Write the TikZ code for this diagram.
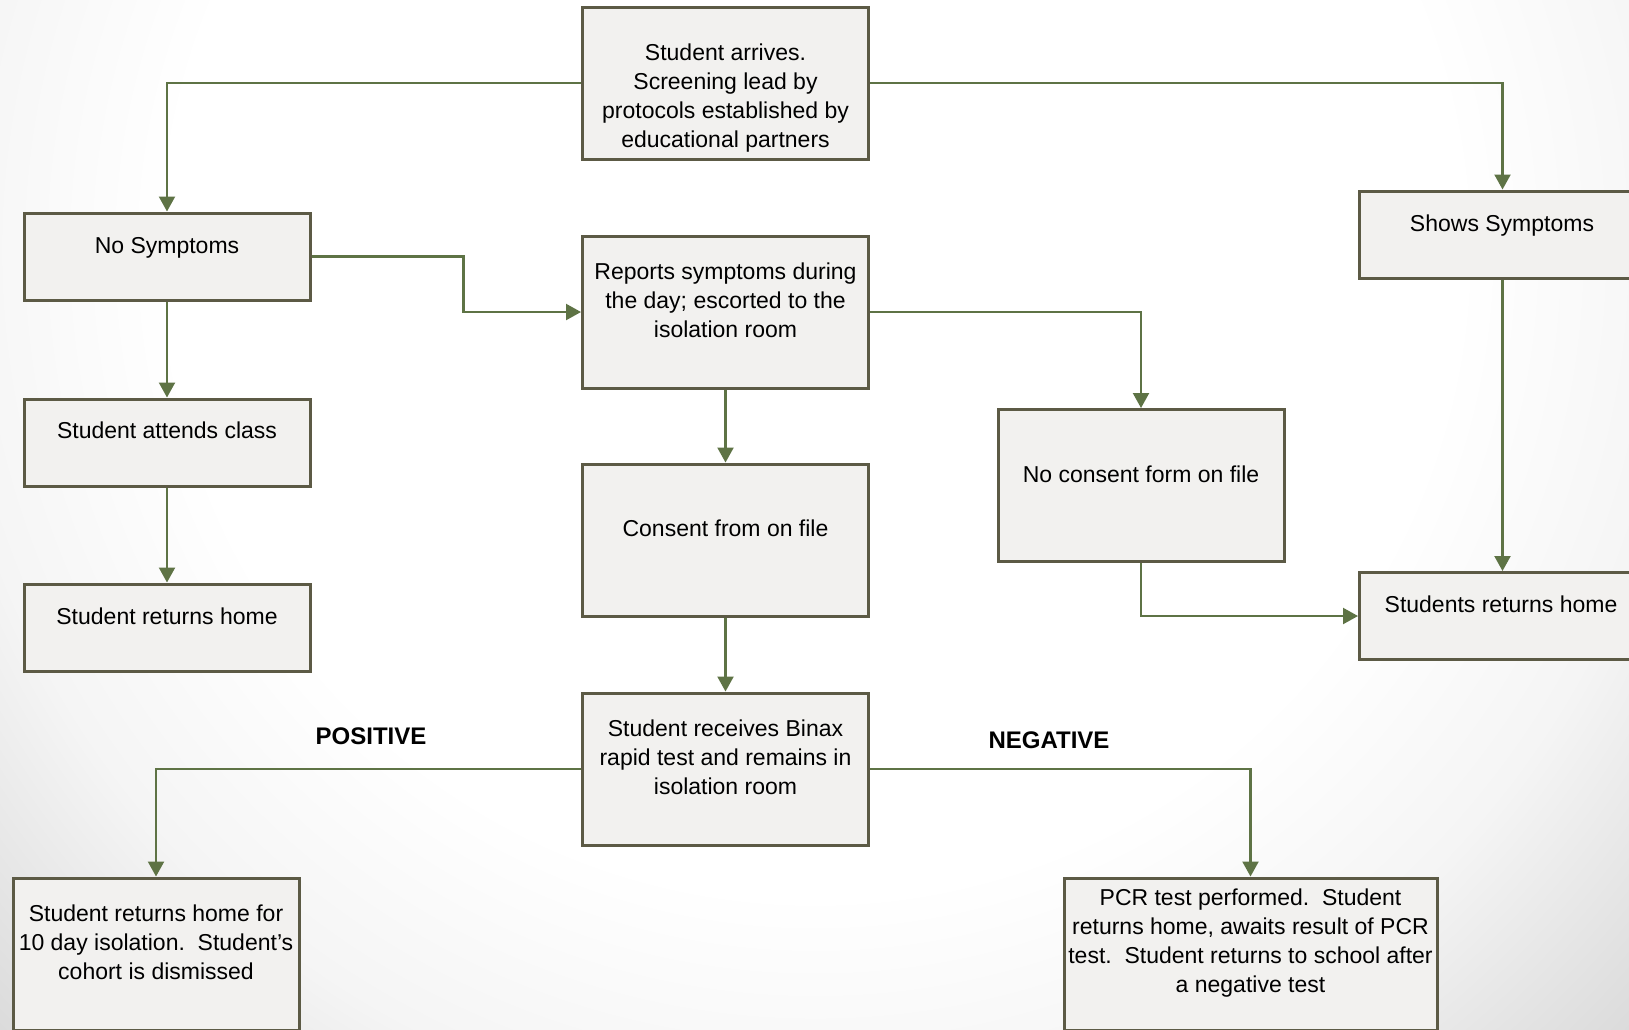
\documentclass[tikz,border=0pt]{standalone}
\usepackage{fontspec}
\setmainfont{Liberation Sans}
\usetikzlibrary{arrows.meta}
\definecolor{boxfill}{HTML}{F2F1EF}
\definecolor{boxline}{HTML}{5C5A45}
\definecolor{arrcol}{HTML}{5E7345}
\pgfdeclareradialshading{bgshade}{\pgfpoint{0bp}{0bp}}{color(0bp)=(white); color(14bp)=(white); color(19bp)=(black!4); color(25bp)=(black!15); color(50bp)=(black!15)}
\tikzset{
  flowbox/.style={draw=boxline, line width=3pt, fill=boxfill, rectangle, inner sep=0pt},
  shortbox/.style={flowbox, minimum width=286pt, minimum height=87pt},
  tallbox/.style={flowbox, minimum width=286pt, minimum height=152pt},
  txt/.style={align=center, font=\fontsize{23}{29}\selectfont, inner sep=0pt, text=black},
  lbl/.style={font=\fontsize{24}{29}\selectfont\bfseries, inner sep=0pt, text=black},
  arr/.style={draw=arrcol, line width=2.2pt, -{Triangle[length=15pt,width=16pt]}}
}
\begin{document}
\begin{tikzpicture}[x=1pt, y=-1pt]
\useasboundingbox (0,0) rectangle (1629,1029);
\clip (0,0) rectangle (1629,1029);
\shade[shading=bgshade] (815,250) circle (1150);

% boxes
\node[tallbox] (start) at (725.5,83) {};
\node[shortbox] (nosym) at (167,256.5) {};
\node[tallbox] (reports) at (725.5,312) {};
\node[shortbox] (shows) at (1502.5,234.5) {};
\node[shortbox] (attends) at (167,442.5) {};
\node[tallbox] (consent) at (725.5,540) {};
\node[tallbox] (noconsent) at (1141,485.5) {};
\node[shortbox] (rethome) at (167,627.5) {};
\node[shortbox] (studret) at (1502.5,616) {};
\node[tallbox] (binax) at (725.5,769) {};
\node[tallbox] (posbox) at (156,954) {};
\node[tallbox, minimum width=373pt] (pcr) at (1250.5,954) {};

% texts
\node[txt] (startT) at (725.5,98.5) {Student arrives.\\Screening lead by\\protocols established by\\educational partners};
\node[txt] (nosymT) at (167,248) {No Symptoms};
\node[txt] (reportsT) at (725.5,300) {Reports symptoms during\\the day; escorted to the\\isolation room};
\node[txt] (showsT) at (1502,226) {Shows Symptoms};
\node[txt] (attendsT) at (167,430) {Student attends class};
\node[txt] (consentT) at (725.5,528) {Consent from on file};
\node[txt] (noconsentT) at (1141,474) {No consent form on file};
\node[txt] (rethomeT) at (167,616) {Student returns home};
\node[txt] (studretT) at (1501,604) {Students returns home};
\node[txt] (binaxT) at (725.5,757) {Student receives Binax\\rapid test and remains in\\isolation room};
\node[txt] (posboxT) at (156,942) {Student returns home for\\10 day isolation.\ \ Student’s\\cohort is dismissed};
\node[txt] (pcrT) at (1250.5,943.5) {PCR test performed.\ \ Student\\returns home, awaits result of PCR\\test.\ \ Student returns to school after\\a negative test};

\node[lbl] (posL) at (371,736) {POSITIVE};
\node[lbl] (negL) at (1049,740) {NEGATIVE};

% connectors
\draw[arr] (start.west) -| (nosym.north);
\draw[arr] (start.east) -| (shows.north);
\draw[arr] (nosym.east) -- ++(152,0) |- (reports.west);
\draw[arr] (reports.east) -| (noconsent.north);
\draw[arr] (nosym.south) -- (attends.north);
\draw[arr] (attends.south) -- (rethome.north);
\draw[arr] (reports.south) -- (consent.north);
\draw[arr] (consent.south) -- (binax.north);
\draw[arr] (shows.south) -- (studret.north);
\draw[arr] (noconsent.south) |- (studret.west);
\draw[arr] (binax.west) -| (posbox.north);
\draw[arr] (binax.east) -| (pcr.north);
\end{tikzpicture}
\end{document}
